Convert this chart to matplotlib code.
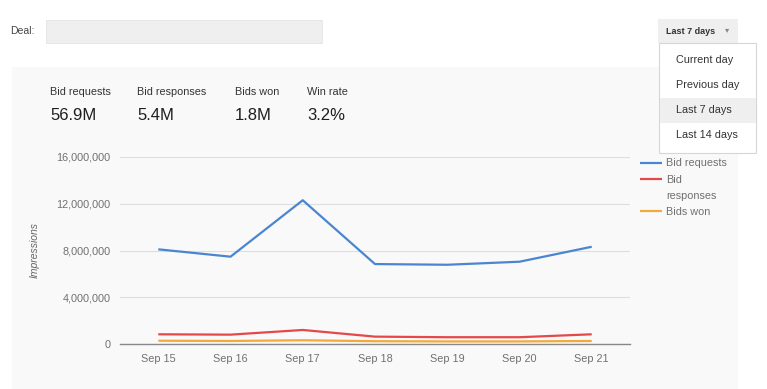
import numpy as np
import matplotlib
matplotlib.use("Agg")
import matplotlib.pyplot as plt
from matplotlib.patches import Rectangle
from matplotlib.lines import Line2D

plt.rcParams['font.family'] = ['Liberation Sans', 'DejaVu Sans']

# data
days = ['Sep 15', 'Sep 16', 'Sep 17', 'Sep 18', 'Sep 19', 'Sep 20', 'Sep 21']
bid_requests = [8100000, 7470000, 12300000, 6840000, 6780000, 7040000, 8320000]
bid_responses = [830000, 800000, 1200000, 630000, 580000, 580000, 830000]
bids_won = [280000, 260000, 320000, 240000, 220000, 220000, 260000]
yticks = [0, 4000000, 8000000, 12000000, 16000000]

stat_labels = ['Bid requests', 'Bid responses', 'Bids won', 'Win rate']
stat_values = ['56.9M', '5.4M', '1.8M', '3.2%']
menu_items = ['Current day', 'Previous day', 'Last 7 days', 'Last 14 days']

W, H = 767, 389
fig = plt.figure(figsize=(W / 100, H / 100), dpi=100)
fig.patch.set_facecolor('white')

# pixel-coordinate overlay for the page chrome
bg = fig.add_axes([0, 0, 1, 1])
bg.set_xlim(0, W)
bg.set_ylim(H, 0)
bg.axis('off')
bg.set_zorder(0)

bg.add_patch(Rectangle((12, 67), 726, 330, facecolor='#f9f9f9', edgecolor='none'))
bg.text(10, 31, 'Deal:', fontsize=7.5, color='#444444', va='center')
bg.add_patch(Rectangle((46, 20), 276, 23, facecolor='#efefef', edgecolor='#e4e4e4', lw=0.6))

# stats row
stat_x = [50, 137, 235, 307]
for x, lab, val in zip(stat_x, stat_labels, stat_values):
    bg.text(x, 92, lab, fontsize=7.8, color='#333333', va='center')
    bg.text(x, 115, val, fontsize=12, color='#1e1e1e', va='center')

# y label
bg.text(35, 250, 'Impressions', fontsize=7.5, color='#666666', style='italic',
        rotation=90, va='center', ha='center')

# plot
ax = fig.add_axes([120 / W, (H - 344) / H, 510 / W, 187 / H])
ax.set_zorder(1)
ax.patch.set_alpha(0)
x = np.arange(len(days))
l1, = ax.plot(x, bid_requests, color='#4a86d0', lw=1.6, solid_capstyle='butt')
l2, = ax.plot(x, bid_responses, color='#e5484a', lw=1.6, solid_capstyle='butt')
l3, = ax.plot(x, bids_won, color='#f2ab3a', lw=1.6, solid_capstyle='butt')
ax.set_xlim(-0.53, 6.53)
ax.set_ylim(0, 16000000)
ax.set_yticks(yticks)
ax.set_yticklabels(['{:,}'.format(v) for v in yticks])
ax.set_xticks(x)
ax.set_xticklabels(days)
ax.grid(axis='y', color='#dedede', lw=0.8)
ax.set_axisbelow(True)
for s in ['top', 'right', 'left']:
    ax.spines[s].set_visible(False)
ax.spines['bottom'].set_color('#888888')
ax.spines['bottom'].set_linewidth(1.0)
ax.tick_params(axis='both', length=0, labelsize=7.8, labelcolor='#707070')
ax.tick_params(axis='y', pad=7)
ax.tick_params(axis='x', pad=7.5)

# legend: second label wraps onto a line with no key
blank = Line2D([], [], color='none')
leg = ax.legend([l1, l2, blank, l3], ['Bid requests', 'Bid', 'responses', 'Bids won'],
                loc='upper left', bbox_to_anchor=(520 / 510, 0.993),
                frameon=False, fontsize=7.8, handlelength=2.0, handletextpad=0.4,
                labelspacing=0.58, borderaxespad=0, borderpad=0)
for t in leg.get_texts():
    t.set_color('#707070')

# dropdown
top = fig.add_axes([0, 0, 1, 1])
top.set_xlim(0, W)
top.set_ylim(H, 0)
top.axis('off')
top.set_zorder(3)
top.patch.set_alpha(0)
top.add_patch(Rectangle((658, 19), 80, 24, facecolor='#efefef', edgecolor='none'))
top.text(666, 31, 'Last 7 days', fontsize=6.5, color='#333333', weight='bold', va='center')
top.text(725, 31, '\u25be', fontsize=6, color='#888888', va='center')
top.add_patch(Rectangle((659, 43), 97, 110, facecolor='white', edgecolor='#d6d6d6', lw=0.8))
top.add_patch(Rectangle((659.5, 98), 96, 25, facecolor='#efefef', edgecolor='none'))
for i, item in enumerate(menu_items):
    top.text(676, 60 + 25 * i, item, fontsize=7.8, color='#333333', va='center')

fig.savefig('out.png', dpi=100)
